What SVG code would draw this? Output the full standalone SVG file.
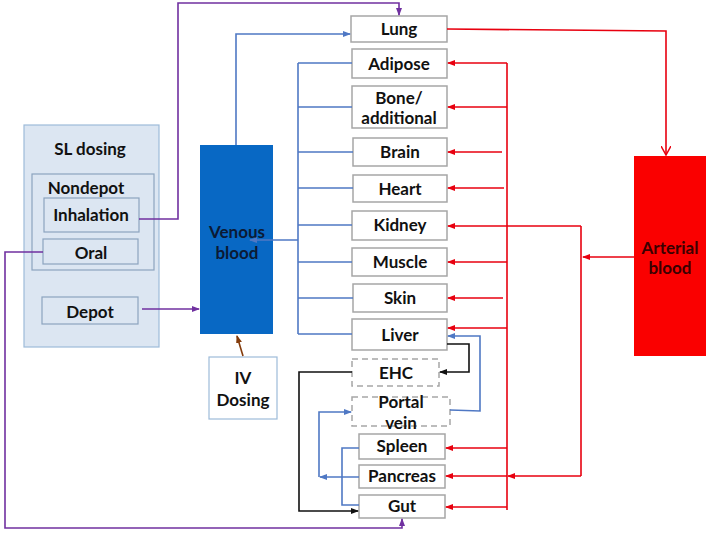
<svg xmlns="http://www.w3.org/2000/svg" width="709" height="535" viewBox="0 0 709 535">
<style>
text{font-family:Lato,"Liberation Sans",sans-serif;font-weight:bold;font-size:17px;text-anchor:middle;fill:#111}
.org{fill:#fff;stroke:#a6a6a6;stroke-width:1.5}
.dash{fill:#fff;stroke:#a6a6a6;stroke-width:1.5;stroke-dasharray:6 4}
.sl{fill:#dce6f2;stroke:#9dbbd9;stroke-width:1.2}
.in{fill:none;stroke:#8ca4bf;stroke-width:1.2}
.b{fill:none;stroke:#4f78c4;stroke-width:1.6}
.r{fill:none;stroke:#e8000f;stroke-width:1.6}
.p{fill:none;stroke:#7030a0;stroke-width:1.6}
.k{fill:none;stroke:#111;stroke-width:1.6}
.br{fill:none;stroke:#843c0c;stroke-width:1.6}
</style>
<defs>
<marker id="ab" markerWidth="8" markerHeight="8" refX="7" refY="4" orient="auto" markerUnits="userSpaceOnUse"><path d="M0,1 L8,4 L0,7 Z" fill="#4f78c4"/></marker>
<marker id="ar" markerWidth="8" markerHeight="8" refX="7" refY="4" orient="auto" markerUnits="userSpaceOnUse"><path d="M0,1 L8,4 L0,7 Z" fill="#e8000f"/></marker>
<marker id="arv" markerWidth="10" markerHeight="10" refX="9" refY="5" orient="auto" markerUnits="userSpaceOnUse"><path d="M0,0 L9,5 L0,10" fill="none" stroke="#e8000f" stroke-width="1.5"/></marker>
<marker id="ap" markerWidth="8" markerHeight="8" refX="7" refY="4" orient="auto" markerUnits="userSpaceOnUse"><path d="M0,1 L8,4 L0,7 Z" fill="#7030a0"/></marker>
<marker id="ak" markerWidth="8" markerHeight="8" refX="7" refY="4" orient="auto" markerUnits="userSpaceOnUse"><path d="M0,1 L8,4 L0,7 Z" fill="#111"/></marker>
<marker id="abr" markerWidth="8" markerHeight="8" refX="7" refY="4" orient="auto" markerUnits="userSpaceOnUse"><path d="M0,1 L8,4 L0,7 Z" fill="#843c0c"/></marker>
</defs>

<g id="sl-dosing">
<rect class="sl" x="24" y="125" width="135" height="222"/>
<text x="90" y="155">SL dosing</text>
</g>
<g id="nondepot">
<rect class="in" x="32" y="174" width="122" height="96"/>
<text x="86" y="194">Nondepot</text>
</g>
<g id="inhalation">
<rect class="in" x="44" y="198" width="95" height="34"/>
<text x="91" y="221">Inhalation</text>
</g>
<g id="oral">
<rect class="in" x="43" y="239" width="95" height="25"/>
<text x="91" y="259">Oral</text>
</g>
<g id="depot">
<rect class="in" x="42" y="297" width="96" height="27"/>
<text x="90" y="318">Depot</text>
</g>
<g id="venous">
<rect x="200" y="145" width="73" height="189" fill="#0868c4"/>
<text x="237" y="238" style="fill:#0b1a35">Venous</text>
<text x="237" y="259" style="fill:#0b1a35">blood</text>
</g>
<g id="iv">
<rect x="209" y="357" width="68" height="62" fill="#fff" stroke="#9dbbd9" stroke-width="1.2"/>
<text x="243" y="384">IV</text>
<text x="243" y="406">Dosing</text>
</g>
<g id="arterial">
<rect x="634" y="156" width="72" height="200" fill="#fa0000"/>
<text x="670" y="254" style="fill:#3a0000">Arterial</text>
<text x="670" y="274" style="fill:#3a0000">blood</text>
</g>

<g id="lung"><rect class="org" x="351" y="16" width="96" height="26"/><text x="399" y="35">Lung</text></g>
<g id="adipose"><rect class="org" x="352" y="49" width="95" height="29"/><text x="399" y="70">Adipose</text></g>
<g id="bone"><rect class="org" x="352" y="86" width="95" height="42"/><text x="399" y="104">Bone/</text><text x="399" y="124">additional</text></g>
<g id="brain"><rect class="org" x="353" y="138" width="94" height="28"/><text x="400" y="158">Brain</text></g>
<g id="heart"><rect class="org" x="353" y="175" width="94" height="27"/><text x="400" y="195">Heart</text></g>
<g id="kidney"><rect class="org" x="352" y="211" width="95" height="29"/><text x="400" y="231">Kidney</text></g>
<g id="muscle"><rect class="org" x="352" y="248" width="95" height="28"/><text x="400" y="268">Muscle</text></g>
<g id="skin"><rect class="org" x="353" y="284" width="94" height="28"/><text x="400" y="304">Skin</text></g>
<g id="liver"><rect class="org" x="352" y="319" width="95" height="31"/><text x="400" y="341">Liver</text></g>
<g id="ehc"><rect class="dash" x="352" y="359" width="87" height="27"/><text x="396" y="379">EHC</text></g>
<g id="portal"><rect class="dash" x="352" y="397" width="98" height="29"/><text x="401" y="408">Portal</text><text x="401" y="429">vein</text></g>
<g id="spleen"><rect class="org" x="359" y="434" width="86" height="25"/><text x="402" y="452">Spleen</text></g>
<g id="pancreas"><rect class="org" x="359" y="465" width="86" height="23"/><text x="402" y="482">Pancreas</text></g>
<g id="gut"><rect class="org" x="359" y="495" width="86" height="23"/><text x="402" y="512">Gut</text></g>

<g id="connectors">
<path class="p" d="M139,219 H178 V3 H399 V15" marker-end="url(#ap)"/>
<path class="p" d="M43,252 H5 V528 H402 V519" marker-end="url(#ap)"/>
<path class="p" d="M142,309 H199" marker-end="url(#ap)"/>
<path class="br" d="M243,356 L237,336" marker-end="url(#abr)"/>
<path class="b" d="M236,145 V34 H350" marker-end="url(#ab)"/>
<path class="b" d="M298,63 V334"/>
<path class="b" d="M298,63 H352 M298,107 H352 M298,152 H353 M298,188 H353 M298,225 H352 M298,262 H352 M298,298 H353 M298,334 H352"/>
<path class="b" d="M298,240 H250" marker-end="url(#ab)"/>
<path class="r" d="M447,29 L666,31 V155" marker-end="url(#arv)"/>
<path class="r" d="M634,257 H583" marker-end="url(#ar)"/>
<path class="r" d="M581,226 V476"/>
<path class="r" d="M581,226 H448" marker-end="url(#ar)"/>
<path class="r" d="M581,476 H508" marker-end="url(#ar)"/>
<path class="r" d="M507,63 V510"/>
<path class="r" d="M507,63 H448" marker-end="url(#ar)"/>
<path class="r" d="M507,107 H448" marker-end="url(#ar)"/>
<path class="r" d="M502,152 H448" marker-end="url(#ar)"/>
<path class="r" d="M504,188 H448" marker-end="url(#ar)"/>
<path class="r" d="M507,262 H448" marker-end="url(#ar)"/>
<path class="r" d="M503,298 H448" marker-end="url(#ar)"/>
<path class="r" d="M507,328 H448" marker-end="url(#ar)"/>
<path class="r" d="M507,448 H446" marker-end="url(#ar)"/>
<path class="r" d="M507,476 H446" marker-end="url(#ar)"/>
<path class="r" d="M507,507 H446" marker-end="url(#ar)"/>
<path class="b" d="M450,410 L480,411 V336 H448" marker-end="url(#ab)"/>
<path class="k" d="M447,344 H469 V372 H440" marker-end="url(#ak)"/>
<path class="k" d="M352,372 H299 V511 H358" marker-end="url(#ak)"/>
<path class="b" d="M359,448 H342 V505 H359"/>
<path class="b" d="M359,477 H320" marker-end="url(#ab)"/>
<path class="b" d="M319,477 V412 H351" marker-end="url(#ab)"/>
</g>
</svg>
